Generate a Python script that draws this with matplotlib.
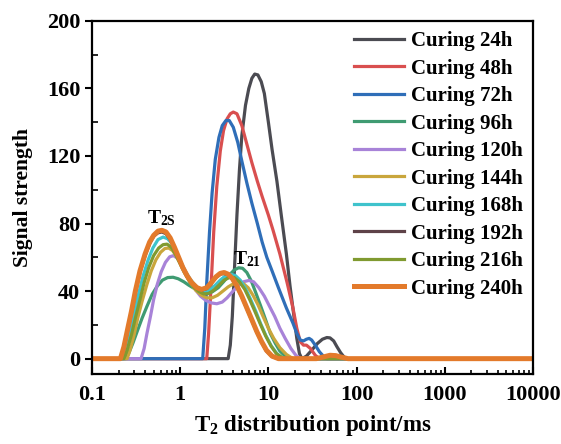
import matplotlib
matplotlib.use("Agg")
import matplotlib.pyplot as plt
from matplotlib.ticker import MultipleLocator, LogLocator, NullFormatter, FixedLocator, FixedFormatter

plt.rcParams['font.family'] = ['Liberation Serif', 'DejaVu Serif']
plt.rcParams['font.weight'] = 'bold'
plt.rcParams['mathtext.fontset'] = 'custom'
plt.rcParams['mathtext.rm'] = 'Liberation Serif:bold'
plt.rcParams['mathtext.bf'] = 'Liberation Serif:bold'
plt.rcParams['mathtext.it'] = 'Liberation Serif:bold'

# T2 relaxation time (ms) and signal strength
t_24h = [0.1, 3.5, 3.7, 3.9, 4.1, 4.4, 4.7, 5.0, 5.5, 6.0, 6.5, 7.0, 7.6, 8.3, 9.0, 10, 11,
         12.5, 14, 16, 17.6, 19.5, 21, 22.5, 24, 27, 31, 36, 41, 46, 50, 55, 60, 66, 72, 78, 10000]
s_24h = [0, 0, 8, 25, 50, 85, 112, 132, 150, 160, 166, 168.5, 168, 164, 157, 140, 124,
         105, 85, 62, 43, 25, 12, 3, 0, 1.5, 5, 9, 11.5, 12.5, 12.3, 10.5, 7, 3.5, 1, 0, 0]

t_48h = [0.1, 2.0, 2.1, 2.25, 2.4, 2.6, 2.85, 3.1, 3.4, 3.7, 4.0, 4.4, 5.0, 5.7, 6.5, 7.5,
         8.5, 10, 11.3, 13.5, 16.3, 19, 21, 23, 25, 27, 30, 34, 38, 10000]
s_48h = [0, 0, 15, 45, 75, 102, 123, 135, 142, 145, 146, 145, 138, 127, 116, 105,
         96, 85, 76, 62, 45, 30, 18, 10, 8, 8, 6, 2, 0, 0]

t_72h = [0.1, 1.8, 1.9, 2.0, 2.15, 2.3, 2.5, 2.75, 3.0, 3.3, 3.6, 4.0, 4.5, 5.0, 5.7, 6.5,
         7.5, 8.5, 9.6, 11, 13, 16, 19, 21, 23, 25, 27, 29, 31, 34, 38, 42, 46, 10000]
s_72h = [0, 0, 18, 45, 75, 98, 118, 131, 138, 141, 141, 137, 128, 117, 104, 92,
         80, 69, 60, 52, 42, 30, 21, 15, 11, 10.5, 11.5, 12, 11, 8, 4, 1.5, 0, 0]

t_96h = [0.1, 0.24, 0.26, 0.29, 0.33, 0.37, 0.42, 0.48, 0.55, 0.63, 0.72, 0.83, 0.95, 1.1,
         1.25, 1.45, 1.7, 2.0, 2.3, 2.7, 3.1, 3.6, 4.1, 4.6, 5.1, 5.7, 6.4, 7.2, 8.2, 9.3,
         10.5, 12, 13.5, 15.5, 17.5, 10000]
s_96h = [0, 0, 3, 9, 17, 24, 31, 38, 43, 46.5, 48, 48.2, 47.3, 45.5,
         43.5, 41.5, 39.8, 39, 39.5, 42, 45.5, 49.5, 52.5, 53.8, 53.5, 51, 46, 39, 31, 23,
         15, 9, 4.5, 1.5, 0, 0]

t_120h = [0.1, 0.36, 0.39, 0.42, 0.46, 0.5, 0.55, 0.61, 0.68, 0.76, 0.84, 0.93, 1.03, 1.15,
          1.3, 1.48, 1.7, 1.95, 2.25, 2.6, 3.0, 3.4, 3.9, 4.5, 5.2, 6.0, 6.8, 7.8, 9, 10.3,
          11.8, 13.5, 15.5, 18, 20.5, 23, 10000]
s_120h = [0, 0, 6, 15, 25, 35, 44, 51.5, 57, 60.3, 61, 59.5, 56, 51.5,
          46, 41, 37, 34.5, 33, 32.5, 33.5, 36, 39.5, 43, 45.5, 46.3, 45.5, 42, 37, 31,
          25, 18, 12, 6, 2, 0, 0]

t_144h = [0.1, 0.25, 0.27, 0.3, 0.33, 0.37, 0.42, 0.47, 0.53, 0.6, 0.67, 0.74, 0.82, 0.91,
          1.02, 1.15, 1.3, 1.5, 1.75, 2.0, 2.3, 2.65, 3.05, 3.5, 4.0, 4.6, 5.2, 5.9, 6.7,
          7.6, 8.7, 10, 11.5, 13.5, 16, 19, 10000]
s_144h = [0, 0, 5, 14, 24, 34, 44, 52, 58.5, 63, 65.2, 65.5, 64, 60.5,
          55.5, 50, 45, 40.5, 37.5, 36, 36, 37.5, 40, 42.5, 44.3, 45, 44.5, 42, 37.5,
          32, 25, 18, 12, 6.5, 2.5, 0, 0]

t_168h = [0.1, 0.22, 0.24, 0.27, 0.3, 0.34, 0.38, 0.43, 0.49, 0.56, 0.64, 0.72, 0.81, 0.91,
          1.02, 1.15, 1.3, 1.5, 1.7, 1.95, 2.2, 2.5, 2.85, 3.25, 3.7, 4.2, 4.8, 5.5, 6.3,
          7.2, 8.2, 9.4, 10.8, 12.5, 14.5, 10000]
s_168h = [0, 0, 6, 16, 27, 39, 49, 58, 65.5, 70.5, 72, 71, 68, 63,
          57, 51.5, 47, 43, 41, 40, 41, 43.5, 46.5, 49, 50, 49.3, 46.5, 41.5, 35,
          28, 20.5, 13.5, 7.5, 3, 0, 0]

t_192h = [0.1, 0.21, 0.23, 0.25, 0.28, 0.31, 0.35, 0.4, 0.45, 0.5, 0.56, 0.62, 0.69, 0.77,
          0.86, 0.96, 1.07, 1.2, 1.35, 1.55, 1.75, 2.0, 2.25, 2.55, 2.85, 3.15, 3.5, 3.9,
          4.4, 5.0, 5.7, 6.5, 7.4, 8.4, 9.5, 11, 13, 10000]
s_192h = [0, 0, 6, 15, 27, 39, 51, 61, 68, 72.5, 74.5, 75, 74, 70.5,
          65, 59, 53.5, 48.5, 44.5, 41.5, 40.5, 41.5, 44.5, 48, 50, 50.5, 49.5, 47,
          42.5, 36.5, 29.5, 22.5, 15.5, 9.5, 4.5, 1.2, 0, 0]

t_216h = [0.1, 0.23, 0.25, 0.28, 0.31, 0.35, 0.39, 0.44, 0.5, 0.57, 0.64, 0.71, 0.79, 0.88,
          0.98, 1.1, 1.25, 1.42, 1.62, 1.85, 2.1, 2.4, 2.75, 3.15, 3.6, 4.1, 4.7, 5.4, 6.2,
          7.1, 8.1, 9.3, 10.7, 12.3, 14.5, 15.5, 10000]
s_216h = [0, 0, 5, 14, 24, 35, 45, 54, 61, 65.5, 67.5, 67.8, 66, 62,
          57, 51.5, 46.5, 42.5, 39.8, 38.3, 38.5, 40.5, 43.5, 46.5, 48, 48, 45.5, 41, 34.5,
          27.5, 20.5, 13.5, 7.5, 3, 0.5, 0, 0]

t_240h = [0.1, 0.21, 0.23, 0.25, 0.28, 0.31, 0.35, 0.4, 0.45, 0.5, 0.56, 0.62, 0.69, 0.77,
          0.86, 0.96, 1.07, 1.2, 1.35, 1.55, 1.75, 2.0, 2.25, 2.55, 2.85, 3.15, 3.5, 3.9,
          4.4, 5.0, 5.7, 6.5, 7.4, 8.4, 9.5, 11, 13, 35, 42, 50, 58, 66, 80, 10000]
s_240h = [0, 0, 7, 16, 28, 40, 52, 62, 69, 73, 75.5, 76, 75, 71.5,
          66, 60, 54, 49, 45, 42, 41, 42, 45, 48.5, 50.5, 51, 50, 47.5,
          43, 37, 30, 23, 16, 10, 5, 1.5, 0, 0, 1, 2, 1.8, 1, 0, 0]

labels = ['Curing 24h', 'Curing 48h', 'Curing 72h', 'Curing 96h', 'Curing 120h',
          'Curing 144h', 'Curing 168h', 'Curing 192h', 'Curing 216h', 'Curing 240h']
colors = ['#4b4b52', '#d94f4f', '#2f6eb8', '#3f9b72', '#a883d8',
          '#c9a63c', '#3fc3cc', '#5e4248', '#809a30', '#e37a2b']

series = [(t_24h, s_24h), (t_48h, s_48h), (t_72h, s_72h), (t_96h, s_96h),
          (t_120h, s_120h), (t_144h, s_144h), (t_168h, s_168h), (t_192h, s_192h),
          (t_216h, s_216h), (t_240h, s_240h)]

fig = plt.figure(figsize=(5.61, 4.44), dpi=100)
ax = fig.add_axes([0.164, 0.158, 0.786, 0.795])

for i, ((t, s), lab, c) in enumerate(zip(series, labels, colors)):
    lw = 3.6 if i == len(series) - 1 else 2.3
    ax.plot(t, s, color=c, lw=lw, label=lab, solid_joinstyle='round')

ax.set_xscale('log')
ax.set_xlim(0.1, 10000)
ax.set_ylim(-9, 200)

xt = [0.1, 1, 10, 100, 1000, 10000]
ax.xaxis.set_major_locator(FixedLocator(xt))
ax.xaxis.set_major_formatter(FixedFormatter(['0.1', '1', '10', '100', '1000', '10000']))
ax.xaxis.set_minor_locator(LogLocator(base=10, subs=range(2, 10), numticks=20))
ax.xaxis.set_minor_formatter(NullFormatter())
ax.yaxis.set_major_locator(MultipleLocator(40))
ax.yaxis.set_minor_locator(MultipleLocator(20))

ax.tick_params(axis='x', which='major', direction='in', length=5, width=1.5, labelsize=16, pad=8)
ax.tick_params(axis='x', which='minor', direction='in', length=3, width=1.2)
ax.tick_params(axis='y', which='major', direction='out', length=5, width=1.5, labelsize=16)
ax.tick_params(axis='y', which='minor', direction='in', length=4, width=1.2)
for sp in ax.spines.values():
    sp.set_linewidth(1.6)

ax.set_xlabel(r'T$_2$ distribution point/ms', fontsize=16.5, fontweight='bold', labelpad=6)
ax.set_ylabel('Signal strength', fontsize=15.5, fontweight='bold', labelpad=10)

ax.text(0.62, 83, r'T$_{\mathrm{2S}}$', fontsize=14, ha='center', va='center')
ax.text(5.7, 59, r'T$_{\mathrm{21}}$', fontsize=14, ha='center', va='center')

ax.legend(loc='upper right', frameon=False, handlelength=2.4,
          handletextpad=0.3, labelspacing=0.36, borderaxespad=0.1,
          prop={'family': 'Liberation Serif', 'weight': 'bold', 'size': 15})

fig.savefig('out.png', dpi=100)
